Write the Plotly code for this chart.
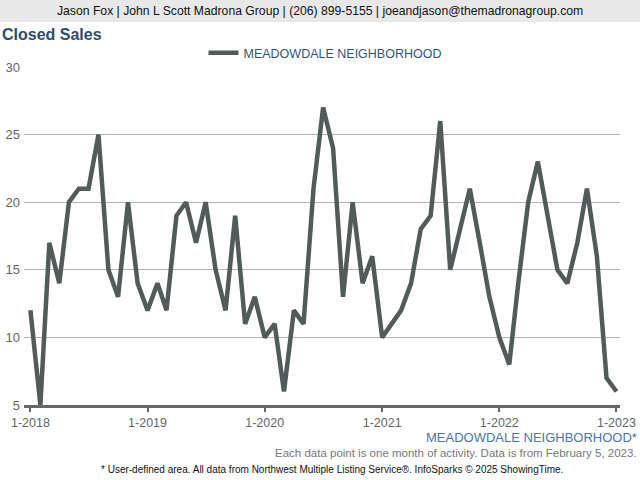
import plotly.graph_objects as go
import pandas as pd

months = pd.date_range("2018-01-01", "2023-01-01", freq="MS")
closed_sales = [
    12, 5, 17, 14, 20, 21, 21, 25, 15, 13, 20, 14,
    12, 14, 12, 19, 20, 17, 20, 15, 12, 19, 11, 13,
    10, 11, 6, 12, 11, 21, 27, 24, 13, 20, 14, 16,
    10, 11, 12, 14, 18, 19, 26, 15, 18, 21, 17, 13,
    10, 8, 14, 20, 23, 19, 15, 14, 17, 21, 16, 7,
    6,
]
series_name = "MEADOWDALE NEIGHBORHOOD"
tick_dates = ["2018-01-01", "2019-01-01", "2020-01-01", "2021-01-01", "2022-01-01", "2023-01-01"]
tick_labels = ["1-2018", "1-2019", "1-2020", "1-2021", "1-2022", "1-2023"]
y_ticks = [5, 10, 15, 20, 25, 30]

W, H = 640, 480
ml, mr, mt, mb = 24, 20, 67, 75
pw, ph = W - ml - mr, H - mt - mb

def px(x):
    return (x - ml) / pw

def py(y):
    return (H - mb - y) / ph

fig = go.Figure()
fig.add_trace(go.Scatter(
    x=months, y=closed_sales, mode="lines", name=series_name,
    line=dict(color="#525b5a", width=4.5),
))

blue = "#33557a"
font = "Arial, Liberation Sans, sans-serif"

fig.update_layout(
    width=W, height=H,
    margin=dict(l=ml, r=mr, t=mt, b=mb, autoexpand=False),
    paper_bgcolor="white", plot_bgcolor="white",
    font=dict(family=font, color="#666666", size=13),
    showlegend=True,
    legend=dict(orientation="h", x=px(325), xanchor="center", y=py(53), yanchor="middle",
                font=dict(color=blue, size=12.5), itemwidth=30),
    xaxis=dict(
        type="date", range=["2017-12-12", "2023-01-12"], automargin=False,
        tickvals=tick_dates, ticktext=tick_labels,
        showgrid=False, showline=True, linecolor="#666666", linewidth=3,
        ticks="outside", ticklen=4, tickwidth=2, tickcolor="#666666",
        tickfont=dict(color="#666666", size=12.5), zeroline=False,
    ),
    yaxis=dict(
        range=[5, 30], tickvals=y_ticks, showgrid=True, gridcolor="#b4b4b4", gridwidth=1,
        showline=False, zeroline=False, ticks="", ticklabelstandoff=3, automargin=False,
        tickfont=dict(color="#666666", size=13),
    ),
    shapes=[
        dict(type="rect", xref="paper", yref="paper", x0=px(0), x1=px(W), y0=py(0), y1=py(22),
             fillcolor="#e8e8e8", line=dict(width=0), layer="below"),
    ],
    annotations=[
        dict(text="Jason Fox | John L Scott Madrona Group | (206) 899-5155 | joeandjason@themadronagroup.com",
             xref="paper", yref="paper", x=px(320), y=py(11), xanchor="center", yanchor="middle",
             showarrow=False, font=dict(family=font, size=12.2, color="#111111")),
        dict(text="<b>Closed Sales</b>", xref="paper", yref="paper", x=px(0), y=py(35),
             xanchor="left", yanchor="middle", showarrow=False,
             font=dict(family=font, size=16, color="#2e4d6e")),
        dict(text="MEADOWDALE NEIGHBORHOOD*", xref="paper", yref="paper", x=px(639), y=py(437),
             xanchor="right", yanchor="middle", showarrow=False,
             font=dict(family=font, size=13, color="#4a76a8")),
        dict(text="Each data point is one month of activity. Data is from February 5, 2023.",
             xref="paper", yref="paper", x=px(639), y=py(453), xanchor="right", yanchor="middle",
             showarrow=False, font=dict(family=font, size=11.5, color="#777777")),
        dict(text="* User-defined area. All data from Northwest Multiple Listing Service®. InfoSparks © 2025 ShowingTime.",
             xref="paper", yref="paper", x=px(332), y=py(469), xanchor="center", yanchor="middle",
             showarrow=False, font=dict(family=font, size=10, color="#111111")),
    ],
)

fig.write_html(
    "out.html",
    config={"displayModeBar": False},
    post_script="document.body.style.margin='0px';document.body.style.overflow='hidden';",
)
